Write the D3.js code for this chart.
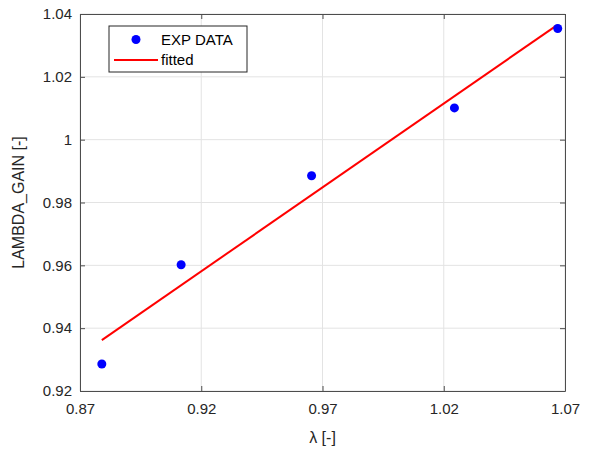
<!DOCTYPE html>
<html>
<head>
<meta charset="utf-8">
<script src="https://cdn.jsdelivr.net/npm/d3@7"></script>
<style>
  body { margin: 0; background: #fff; }
  svg { font-family: "Liberation Sans", Arial, sans-serif; }
</style>
</head>
<body>
<div id="chart"></div>
<script>
const width = 591,
    height = 449;

// data
const expX = [0.879, 0.9117, 0.9655, 1.0244, 1.067];
const expY = [0.9286, 0.9602, 0.9885, 1.0101, 1.0354];
const fitX = [0.879, 1.0666];
const fitY = [0.9362, 1.0364];
const xTicks = [0.87, 0.92, 0.97, 1.02, 1.07];
const yTicks = [0.92, 0.94, 0.96, 0.98, 1, 1.02, 1.04];

const margin = {left: 80, right: 26, top: 14, bottom: 58};
const iw = width - margin.left - margin.right,
    ih = height - margin.top - margin.bottom;

const svg = d3.select('#chart')
    .append('svg')
    .attr('width', width)
    .attr('height', height);

const x = d3.scaleLinear().domain([0.87, 1.07]).range([0, iw]);
const y = d3.scaleLinear().domain([0.92, 1.04]).range([ih, 0]);

const g = svg.append('g')
    .attr('transform', `translate(${margin.left},${margin.top})`);

// grid
g.selectAll('.gx').data(xTicks).enter().append('line')
    .attr('x1', d => x(d)).attr('x2', d => x(d))
    .attr('y1', 0).attr('y2', ih)
    .attr('stroke', '#e3e3e3').attr('stroke-width', 1);
g.selectAll('.gy').data(yTicks).enter().append('line')
    .attr('y1', d => y(d)).attr('y2', d => y(d))
    .attr('x1', 0).attr('x2', iw)
    .attr('stroke', '#e3e3e3').attr('stroke-width', 1);

// axes
const fmt = d => d3.format('')(+d.toFixed(2));
const axisColor = '#262626';

const xAxis = g.append('g').attr('transform', `translate(0,${ih})`)
    .call(d3.axisBottom(x).tickValues(xTicks).tickFormat(fmt).tickSizeInner(-5).tickSizeOuter(0).tickPadding(12));
const yAxis = g.append('g')
    .call(d3.axisLeft(y).tickValues(yTicks).tickFormat(fmt).tickSizeInner(-5).tickSizeOuter(0).tickPadding(8));
const xTop = g.append('g')
    .call(d3.axisTop(x).tickValues(xTicks).tickFormat('').tickSizeInner(-5).tickSizeOuter(0));
const yRight = g.append('g').attr('transform', `translate(${iw},0)`)
    .call(d3.axisRight(y).tickValues(yTicks).tickFormat('').tickSizeInner(-5).tickSizeOuter(0));

[xAxis, yAxis, xTop, yRight].forEach(a => {
    a.select('.domain').attr('stroke', '#4d4d4d');
    a.selectAll('.tick line').attr('stroke', '#4d4d4d');
    a.selectAll('text').attr('fill', axisColor).style('font-size', '15px');
});

// fitted line
const line = d3.line().x(d => x(d[0])).y(d => y(d[1]));
g.append('path')
    .datum(fitX.map((v, i) => [v, fitY[i]]))
    .attr('d', line)
    .attr('fill', 'none')
    .attr('stroke', '#ff0000')
    .attr('stroke-width', 2);

// points
g.selectAll('circle').data(expX).enter().append('circle')
    .attr('cx', d => x(d))
    .attr('cy', (d, i) => y(expY[i]))
    .attr('r', 4.5)
    .attr('fill', '#0000ff');

// axis labels
svg.append('text')
    .attr('x', margin.left + iw / 2)
    .attr('y', 443)
    .attr('text-anchor', 'middle')
    .attr('fill', axisColor)
    .style('font-size', '16px')
    .text('λ [-]');

svg.append('text')
    .attr('transform', `translate(24,${margin.top + ih / 2}) rotate(-90)`)
    .attr('text-anchor', 'middle')
    .attr('fill', axisColor)
    .style('font-size', '16px')
    .text('LAMBDA_GAIN [-]');

// legend
const lg = svg.append('g').attr('transform', 'translate(109,26)');
lg.append('rect')
    .attr('width', 138).attr('height', 46)
    .attr('fill', '#fff').attr('stroke', '#262626').attr('stroke-width', 1);
lg.append('circle').attr('cx', 27).attr('cy', 13.5).attr('r', 4.5).attr('fill', '#0000ff');
lg.append('line').attr('x1', 5).attr('x2', 49).attr('y1', 34).attr('y2', 34)
    .attr('stroke', '#ff0000').attr('stroke-width', 2);
lg.append('text').attr('x', 52).attr('y', 19).attr('fill', '#000').style('font-size', '15px').text('EXP DATA');
lg.append('text').attr('x', 52).attr('y', 39).attr('fill', '#000').style('font-size', '15px').text('fitted');
</script>
</body>
</html>
